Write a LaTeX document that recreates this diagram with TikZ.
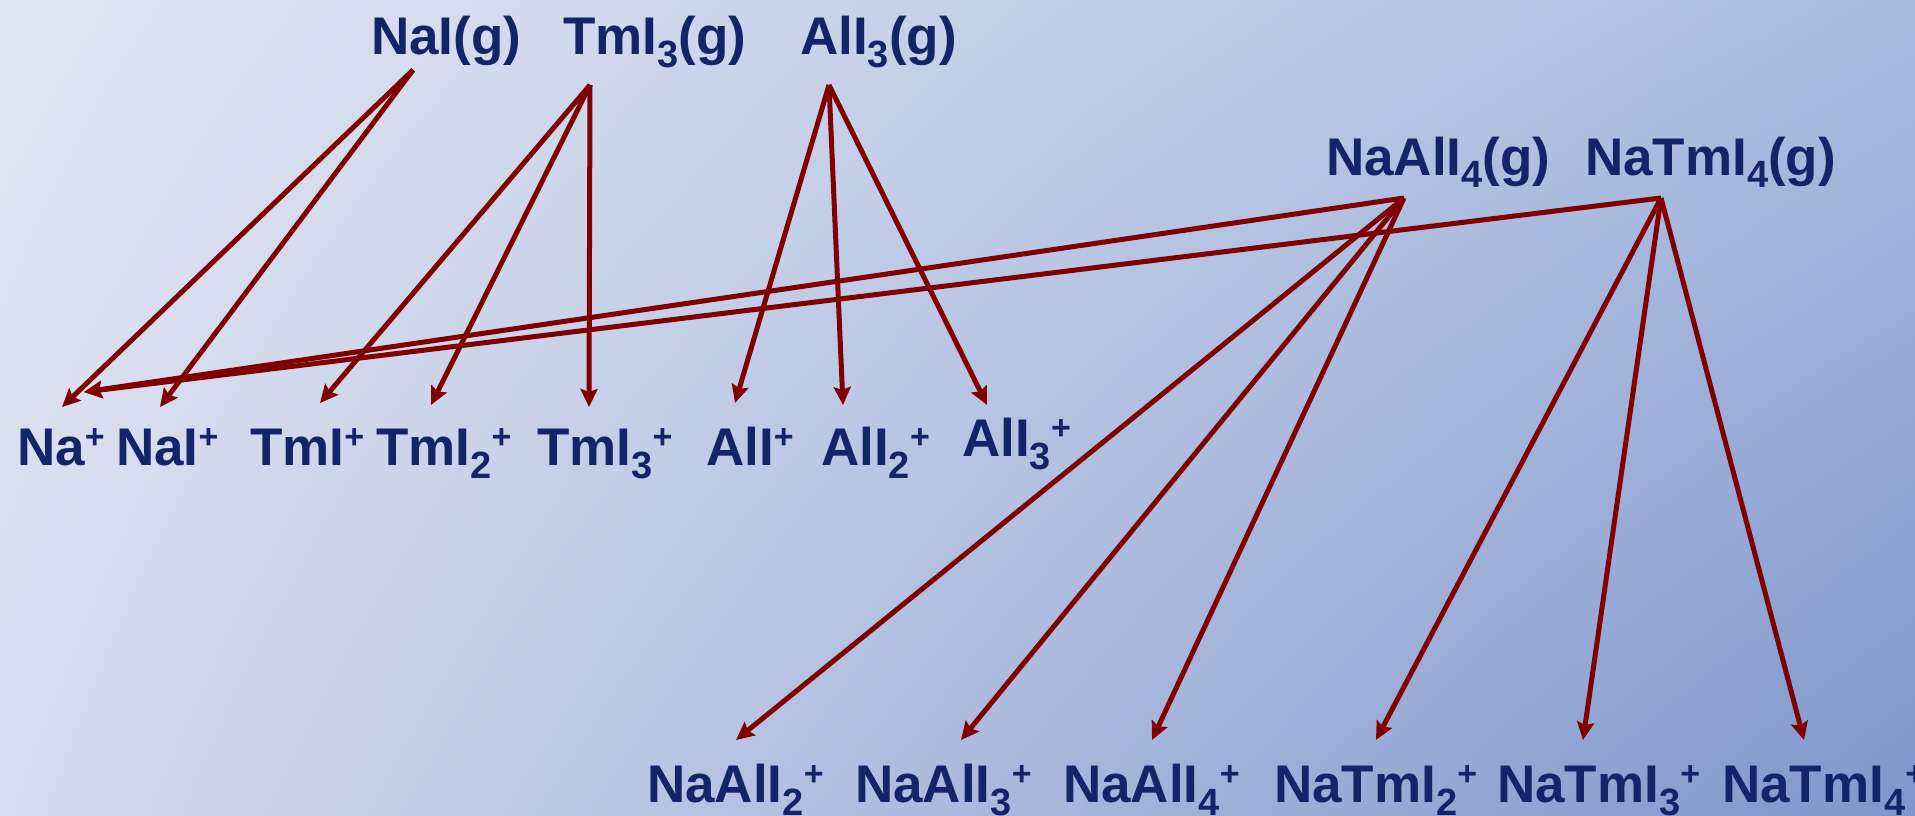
\documentclass[tikz,border=0pt]{standalone}
\usepackage{fontspec}
\setmainfont{Liberation Sans}
\usetikzlibrary{arrows.meta,shadings}
\definecolor{bgA}{RGB}{226,230,242}
\definecolor{bgB}{RGB}{169,188,224}
\definecolor{bgC}{RGB}{214,220,238}
\definecolor{bgD}{RGB}{126,150,204}
\definecolor{ink}{RGB}{19,36,104}
\definecolor{arr}{RGB}{128,0,0}
\newcommand\sbs[1]{\raisebox{-13pt}{\fontsize{38}{38}\selectfont #1}}
\newcommand\plusup{\raisebox{17pt}{\fontsize{34}{34}\selectfont +}}
\tikzset{
  lbl/.style={anchor=base west, inner sep=0pt, text=ink, font=\fontsize{53}{60}\selectfont\bfseries},
  rx/.style={draw=arr, line width=5pt, -{Stealth[length=18pt,width=17pt,inset=3pt]}}
}
\begin{document}
\begin{tikzpicture}[x=1pt,y=-1pt]
\useasboundingbox (0,0) rectangle (1915,816);
\shade[upper left=bgA, upper right=bgB, lower left=bgC, lower right=bgD] (0,0) rectangle (1915,816);
\begin{scope}
\clip (0,0) rectangle (1915,816);
% top row
\node[lbl] (naig) at (371,55) {NaI(g)};
\node[lbl] (tmi3g) at (563,55) {TmI\sbs{3}(g)};
\node[lbl] (ali3g) at (800,55) {AlI\sbs{3}(g)};
\node[lbl] (naali4g) at (1326,175) {NaAlI\sbs{4}(g)};
\node[lbl] (natmi4g) at (1585,175) {NaTmI\sbs{4}(g)};
% middle row
\node[lbl] (nap) at (17,465) {Na\plusup};
\node[lbl] (naip) at (116,465) {NaI\plusup};
\node[lbl] (tmip) at (250,465) {TmI\plusup};
\node[lbl] (tmi2p) at (376,465) {TmI\sbs{2}\plusup};
\node[lbl] (tmi3p) at (537,465) {TmI\sbs{3}\plusup};
\node[lbl] (alip) at (706,465) {AlI\plusup};
\node[lbl] (ali2p) at (821,465) {AlI\sbs{2}\plusup};
\node[lbl] (ali3p) at (962,456) {AlI\sbs{3}\plusup};
% bottom row
\node[lbl] (naali2p) at (647,802) {NaAlI\sbs{2}\plusup};
\node[lbl] (naali3p) at (855,802) {NaAlI\sbs{3}\plusup};
\node[lbl] (naali4p) at (1063,802) {NaAlI\sbs{4}\plusup};
\node[lbl] (natmi2p) at (1274,802) {NaTmI\sbs{2}\plusup};
\node[lbl] (natmi3p) at (1497,802) {NaTmI\sbs{3}\plusup};
\node[lbl] (natmi4p) at (1722,802) {NaTmI\sbs{4}\plusup};
\end{scope}
% arrow start points
\coordinate (sNaI) at (413,70);
\coordinate (sTmI) at (590,85);
\coordinate (sAlI) at (829,85);
\coordinate (sNaAl) at (1404,198);
\coordinate (sNaTm) at (1661,198);
% arrow tips
\coordinate (tNa) at (62,407);
\coordinate (tNa2) at (84,392);
\coordinate (tNaI) at (160,407);
\coordinate (tTmI) at (320,403);
\coordinate (tTmI2) at (431,405);
\coordinate (tTmI3) at (589,407);
\coordinate (tAlI) at (735,403);
\coordinate (tAlI2) at (843,405);
\coordinate (tAlI3) at (987,405);
\coordinate (tNaAl2) at (736,740);
\coordinate (tNaAl3) at (961,740);
\coordinate (tNaAl4) at (1152,740);
\coordinate (tNaTm2) at (1376,740);
\coordinate (tNaTm3) at (1583,740);
\coordinate (tNaTm4) at (1804,740);
% arrows
\draw[rx] (sNaI) -- (tNa);
\draw[rx] (sNaI) -- (tNaI);
\draw[rx] (sTmI) -- (tTmI);
\draw[rx] (sTmI) -- (tTmI2);
\draw[rx] (sTmI) -- (tTmI3);
\draw[rx] (sAlI) -- (tAlI);
\draw[rx] (sAlI) -- (tAlI2);
\draw[rx] (sAlI) -- (tAlI3);
\draw[rx] (sNaAl) -- (tNa2);
\draw[rx] (sNaTm) -- (tNa2);
\draw[rx] (sNaAl) -- (tNaAl2);
\draw[rx] (sNaAl) -- (tNaAl3);
\draw[rx] (sNaAl) -- (tNaAl4);
\draw[rx] (sNaTm) -- (tNaTm2);
\draw[rx] (sNaTm) -- (tNaTm3);
\draw[rx] (sNaTm) -- (tNaTm4);
\end{tikzpicture}
\end{document}
